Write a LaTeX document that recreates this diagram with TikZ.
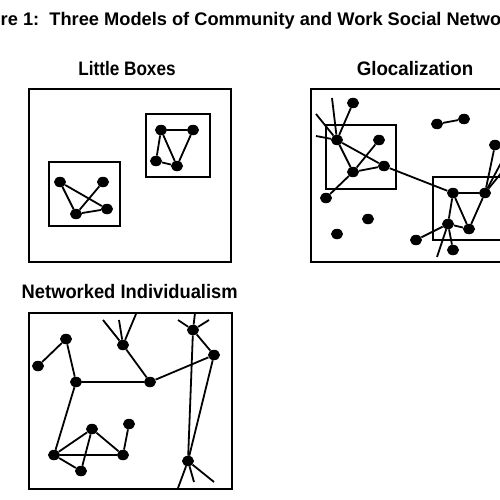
\documentclass[tikz,border=0pt]{standalone}
\usepackage{graphicx}
\usepackage{fontspec}
\setmainfont{Liberation Sans}
\usetikzlibrary{shapes.geometric}

\begin{document}
\begin{tikzpicture}[x=1pt,y=-1pt,
  actor/.style={ellipse,fill=black,inner sep=0pt,minimum width=12pt,minimum height=10.5pt},
  tie/.style={line width=1.8pt},
  frame/.style={line width=2.7pt},
  cluster/.style={line width=2pt},
  heading/.style={font=\fontsize{19.5}{19}\selectfont\bfseries,inner sep=0pt,anchor=base}]
\useasboundingbox (0,0) rectangle (500,500);

% --- caption, cut at both sides as in the scan ---
\node[font=\fontsize{18.25}{18}\selectfont\bfseries,anchor=base west,inner sep=0pt] (title) at (0.5,26)
  {\llap{Figu}re 1:\ \ Three Models of Community and Work Social Netwo\rlap{rks}};

% --- panel headings ---
\node[heading] (hlb) at (127,75.7) {\scalebox{0.88}[1]{Little Boxes}};
\node[heading] (hgl) at (415,75.7) {\scalebox{0.96}[1]{Glocalization}};
\node[heading] (hni) at (129.7,298.3) {\scalebox{0.94}[1]{Networked Individualism}};

% --- little boxes ---
\draw[frame] (29,89) rectangle (231,262);
\draw[cluster] (49,162) rectangle (120,226);
\draw[cluster] (146,114) rectangle (210,177);
\foreach \n/\x/\y in {lb1/60/182,lb2/103/182,lb3/76/214,lb4/107/209,
                      lb5/161/130,lb6/193/130,lb7/156/161,lb8/177/166}
  \node[actor] (\n) at (\x,\y) {};
\foreach \a/\b in {lb1/lb4,lb1/lb3,lb3/lb2,lb3/lb4,lb5/lb6,lb5/lb7,lb5/lb8,lb7/lb8,lb6/lb8}
  \draw[tie] (\a) -- (\b);

% --- glocalization ---
\draw[frame] (311,89) rectangle (506,262);
\draw[cluster] (326,125) rectangle (396,189);
\draw[cluster] (433,177) rectangle (506,240);
\foreach \n/\x/\y in {gl1/353/103,gl2/337/140,gl3/379/140,gl4/353/172,gl5/384/166,
                      gl6/326/198,gl7/437/124,gl8/464/119,gl9/368/219,gl10/337/234,
                      gl11/453/193,gl12/485/193,gl13/495/145,gl14/448/224,gl15/469/229,
                      gl16/416/240,gl17/453/250}
  \node[actor] (\n) at (\x,\y) {};
% loose ends leaving the picture
\coordinate (gf1) at (332,98);  \coordinate (gf2) at (316,114);
\coordinate (gf3) at (316,136); \coordinate (gf4) at (502,161);
\coordinate (gf5) at (502,172); \coordinate (gf6) at (437,257);
\foreach \a/\b in {gl2/gl1,gl2/gf1,gl2/gf2,gl2/gf3,gl2/gl4,gl3/gl4,gl4/gl5,gl4/gl6,
                   gl2/gl5,gl5/gl11,gl7/gl8,gl11/gl12,gl11/gl14,gl11/gl15,gl12/gl15,
                   gl12/gl13,gl12/gf4,gl12/gf5,gl14/gl15,gl14/gl16,gl14/gl17,gl14/gf6}
  \draw[tie] (\a) -- (\b);

% --- networked individualism ---
\draw[frame] (29,313) rectangle (232,489);
\foreach \n/\x/\y in {ni1/38/366,ni2/66/339,ni3/76/382,ni4/123/345,ni5/150/382,
                      ni6/193/330,ni7/214/355,ni8/92/429,ni9/129/424,ni10/54/455,
                      ni11/123/455,ni12/81/471,ni13/188/461}
  \node[actor] (\n) at (\x,\y) {};
\coordinate (nf1) at (103,320); \coordinate (nf2) at (119,320);
\coordinate (nf3) at (136,314); \coordinate (nf4) at (178,320);
\coordinate (nf5) at (209,320); \coordinate (nf6) at (195,313);
\coordinate (nf7) at (178,488); \coordinate (nf8) at (194,482);
\coordinate (nf9) at (214,482);
\foreach \a/\b in {ni1/ni2,ni2/ni3,ni3/ni5,ni3/ni10,ni4/ni5,ni5/ni7,ni6/ni7,ni7/ni13,
                   ni6/ni13,ni8/ni10,ni8/ni11,ni8/ni12,ni10/ni11,ni10/ni12,ni9/ni11,
                   ni4/nf1,ni4/nf2,ni4/nf3,ni6/nf4,ni6/nf5,ni6/nf6,
                   ni13/nf7,ni13/nf8,ni13/nf9}
  \draw[tie] (\a) -- (\b);
\end{tikzpicture}
\end{document}
